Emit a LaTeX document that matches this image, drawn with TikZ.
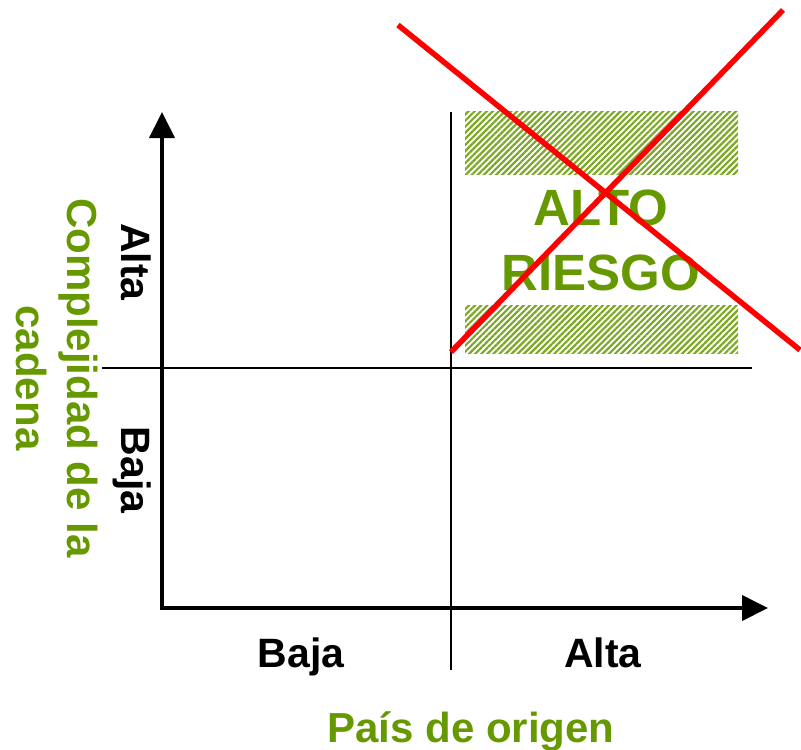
\documentclass[tikz,border=0pt]{standalone}
\usepackage{fontspec}
\setmainfont{Liberation Sans}
\usetikzlibrary{arrows.meta,patterns.meta}
\definecolor{riskgreen}{RGB}{102,153,0}
\tikzset{
  axis/.style={line width=4pt,{Triangle[length=26pt,width=25pt]}-{Triangle[length=26pt,width=25pt]}},
  divider/.style={line width=2.5pt},
  crossline/.style={red,line width=5.5pt},
  hatchbox/.style={pattern={Lines[angle=45,distance=4.3pt,line width=2.2pt]},pattern color=riskgreen!85},
  level/.style={font=\fontsize{41}{49}\selectfont\bfseries},
  axistitle/.style={font=\fontsize{42}{51}\selectfont\bfseries,text=riskgreen,align=center},
  risk/.style={font=\fontsize{51}{65}\selectfont\bfseries,text=riskgreen,align=center},
}

\begin{document}
\begin{tikzpicture}[x=1pt,y=-1pt]
    \useasboundingbox (0,0) rectangle (801,750);

    % axes and dividers
    \coordinate (origin) at (162,608);
    \coordinate (ytip) at (162,112);
    \coordinate (xtip) at (768,608);
    \coordinate (vtop) at (451,112);
    \coordinate (vbot) at (451,670);
    \coordinate (hleft) at (102,368);
    \coordinate (hright) at (752,368);

    \fill[hatchbox] (465,111) rectangle (738,174);
    \fill[hatchbox] (465,305) rectangle (738,353);

    \draw[divider] (vtop) -- (vbot);
    \draw[divider] (hleft) -- (hright);
    \draw[axis] (ytip) -- (origin) -- (xtip);

    % labels
    \node[level,anchor=base] (xlow) at (301,667) {Baja};
    \node[level,anchor=base] (xhigh) at (603,667) {Alta};
    \node[axistitle,anchor=base] (xtitle) at (471,742) {País de origen};
    \node[level,anchor=base,rotate=-90] (yhigh) at (121,262) {Alta};
    \node[level,anchor=base,rotate=-90] (ylow) at (121,470) {Baja};
    \node[axistitle,rotate=-90] (ytitle) at (57,378) {Complejidad de la\\cadena};
    \node[risk] (risk) at (601,240) {ALTO\\RIESGO};

    % cross
    \coordinate (c1) at (398,25);
    \coordinate (c2) at (800,350);
    \coordinate (c3) at (451,352);
    \coordinate (c4) at (783,10);
    \draw[crossline] (c1) -- (c2);
    \draw[crossline] (c3) -- (c4);
\end{tikzpicture}
\end{document}
